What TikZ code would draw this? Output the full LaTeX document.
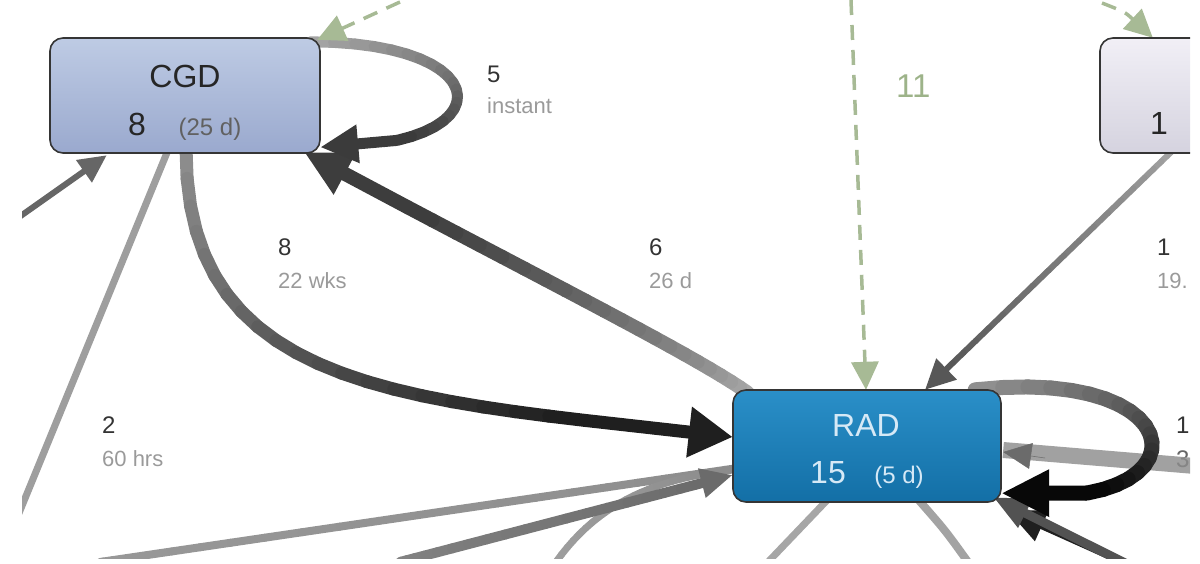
\documentclass[tikz,border=0pt]{standalone}
\usepackage{fontspec}
\setmainfont{Liberation Sans}
\usetikzlibrary{arrows.meta,calc}

\definecolor{boxline}{HTML}{353535}
\definecolor{cgdtop}{HTML}{BECBE4}
\definecolor{cgdbot}{HTML}{9AA9CE}
\definecolor{radtop}{HTML}{2A8FC8}
\definecolor{radbot}{HTML}{136FA6}
\definecolor{pale}{HTML}{F1EFF6}
\definecolor{palebot}{HTML}{D5D3DF}
\definecolor{sage}{HTML}{A7BA95}
\definecolor{sagetext}{HTML}{9DB389}
\definecolor{radtext}{HTML}{D6E9F6}
\definecolor{countc}{HTML}{333333}
\definecolor{timec}{HTML}{9A9A9A}

% cubic Bezier sampled into points fp0..fp24
\newcommand\flowpoints[4]{%
  \coordinate (fa) at #1; \coordinate (fb) at #2;
  \coordinate (fc) at #3; \coordinate (fd) at #4;
  \foreach \k in {0,...,24}{%
    \pgfmathsetmacro\ft{\k/24}%
    \coordinate (fab) at ($(fa)!\ft!(fb)$);
    \coordinate (fbc) at ($(fb)!\ft!(fc)$);
    \coordinate (fcd) at ($(fc)!\ft!(fd)$);
    \coordinate (fabc) at ($(fab)!\ft!(fbc)$);
    \coordinate (fbcd) at ($(fbc)!\ft!(fcd)$);
    \coordinate (fp\k) at ($(fabc)!\ft!(fbcd)$);
  }}
% shaded flow with an arrow tip: width, start colour, end colour, 4 points, tip length, tip width
\newcommand\flowedge[9]{%
  \colorlet{flowstart}{#2}\colorlet{flowend}{#3}%
  \flowpoints{#4}{#5}{#6}{#7}%
  \foreach \k [evaluate=\k as \n using int(\k+1), evaluate=\k as \m using int(100-100*\k/19)] in {0,...,19}{%
    \draw[line width=#1, line cap=round, color=flowstart!\m!flowend] (fp\k) -- (fp\n);}
  \draw[line width=#1, color=flowend, -{Triangle[length=#8, width=#9]}] (fp20) -- (fp24);}
% shaded flow without a tip
\newcommand\flowline[7]{%
  \colorlet{flowstart}{#2}\colorlet{flowend}{#3}%
  \flowpoints{#4}{#5}{#6}{#7}%
  \foreach \k [evaluate=\k as \n using int(\k+1), evaluate=\k as \m using int(100-100*\k/23)] in {0,...,23}{%
    \draw[line width=#1, line cap=round, color=flowstart!\m!flowend] (fp\k) -- (fp\n);}}

\tikzset{
  actbox/.style={draw=boxline, line width=1.6pt, rounded corners=13pt, inner sep=0pt},
  bigtext/.style={anchor=base, inner sep=0pt, font=\fontsize{32}{32}\selectfont},
  smalltext/.style={anchor=base, inner sep=0pt, font=\fontsize{24}{24}\selectfont},
  countlbl/.style={anchor=base west, inner sep=0pt, text=countc, font=\fontsize{24}{24}\selectfont},
  timelbl/.style={anchor=base west, inner sep=0pt, text=timec, font=\fontsize{22}{22}\selectfont},
  sageflow/.style={draw=sage, line width=3.5pt, dash pattern=on 15pt off 10pt,
    -{Triangle[length=28pt, width=27pt, fill=sage]}},
}

\begin{document}
\begin{tikzpicture}[x=1pt, y=-1pt]
\useasboundingbox (0,0) rectangle (1200,563);
\begin{scope}
\clip (22,0) rectangle (1190,558);

% activity boxes (positions only, drawn later on top)
\path (185,95.5) node[minimum width=270pt, minimum height=115pt, inner sep=0pt] (cgd) {};
\path (867,446) node[minimum width=268pt, minimum height=112pt, inner sep=0pt] (rad) {};
\path (1170,95.5) node[minimum width=140pt, minimum height=115pt, inner sep=0pt] (pend) {};

% labels lying under flows
\node[countlbl] (l1a) at (1176,433) {1};
\node[countlbl, text=countc!75] (l1b) at (1176,467) {3};

% free ends of the flows leaving the visible area
\coordinate (inL) at (5,227);
\coordinate (outL) at (10,535);
\coordinate (inA) at (100,562);
\coordinate (inB) at (400,562);
\coordinate (inC) at (556,562);
\coordinate (inR) at (1195,466);
\coordinate (inRtip) at (1045,458);
\coordinate (inBR) at (1125,563);
\coordinate (outB1) at (768,562);
\coordinate (outB2) at (968,562);
\coordinate (topA) at (400,2);
\coordinate (topB) at (851,0);
\coordinate (topC) at (1102,3);

% flows leaving the visible area
\draw[line width=7pt, color=black!38] ($(cgd.south)+(-17,-3)$) -- (outL);
\draw[line width=7pt, color=black!35] ($(rad.south)+(-38,-4)$) -- (outB1);
\draw[line width=8pt, color=black!36] ($(rad.south)+(50,-4)$) .. controls (945,530) .. (outB2);

% flows entering from outside
\draw[line width=6pt, color=black!60, -{Triangle[length=28pt, width=26pt]}] (inL) -- ($(cgd.south west)+(57,2)$);
\flowline{8pt}{black!40}{black!45}{(inA)}{(inA)}{($(rad.west)+(5,22)$)}{($(rad.west)+(5,22)$)}
\flowline{7pt}{black!38}{black!45}{(inC)}{(600,500)}{(660,478)}{($(rad.west)+(0,24)$)}
\flowedge{10pt}{black!48}{black!58}{(inB)}{(inB)}{($(rad.west)+(0,29)$)}{($(rad.west)+(0,29)$)}{32pt}{28pt}
\draw[line width=16pt, color=black!45, draw opacity=0.82] (inR) -- ($(rad.east)+(2,4)$);
\draw[line width=0.5pt, color=black!58, -{Triangle[length=28pt, width=26pt]}] (inRtip) -- ($(rad.east)+(2,6)$);
\draw[line width=7pt, color=black!88, -{Triangle[length=38pt, width=32pt]}] (inBR) -- ($(rad.south east)+(6,8)$);
\draw[line width=9pt, color=black!68, -{Triangle[length=36pt, width=30pt]}] (inBR) -- ($(rad.south east)+(-8,-5)$);

% flows between the activities
\flowedge{6pt}{black!33}{black!66}{($(pend.south)+(2,-2)$)}{($(pend.south)+(2,-2)$)}{($(rad.north)+(58,0)$)}{($(rad.north)+(58,0)$)}{30pt}{28pt}
\flowedge{13pt}{black!45}{black!88}{($(cgd.south)+(1,-5)$)}{(185,400)}{(420,400)}{($(rad.west)+(0,-9)$)}{44pt}{48pt}
\flowedge{14pt}{black!34}{black!76}{($(rad.north west)+(15,3)$)}{(690,352)}{(520,268)}{($(cgd.south east)+(-16,-1)$)}{46pt}{44pt}
\flowedge{11pt}{black!36}{black!77}{($(cgd.north east)+(-10,4)$)}{(505,42)}{(505,150)}{($(cgd.south east)+(0,-6)$)}{38pt}{36pt}
\flowedge{15pt}{black!44}{black!97}{($(rad.north east)+(-26,0)$)}{(1205,364)}{(1208,520)}{($(rad.south east)+(0,-9)$)}{48pt}{44pt}

% dashed start/end flows
\draw[sageflow] (topA) -- ($(cgd.north east)+(-3,2)$);
\draw[sageflow] (topB) -- ($(rad.north)+(-1,0)$);
\draw[sageflow] (topC) .. controls (1125,12) .. ($(pend.north west)+(53,0)$);

% activity boxes
\node[actbox, top color=cgdtop, bottom color=cgdbot, minimum width=270pt, minimum height=115pt] (cgdbox) at (cgd) {};
\node[actbox, top color=radtop, bottom color=radbot, minimum width=268pt, minimum height=112pt] (radbox) at (rad) {};
\node[actbox, top color=pale, bottom color=palebot, minimum width=140pt, minimum height=115pt] (pendbox) at (pend) {};

% box texts
\node[bigtext, text=black!85] (cgdname) at (185,87) {CGD};
\node[bigtext, text=black!85] (cgdn) at (137,135) {8};
\node[smalltext, text=black!62] (cgdt) at (210,135) {(25 d)};
\node[bigtext, text=radtext] (radname) at (866,436) {RAD};
\node[bigtext, text=radtext] (radn) at (828,483) {15};
\node[smalltext, text=radtext] (radt) at (899,483) {(5 d)};
\node[bigtext, text=black!85] (pendn) at (1159,134) {1};

% flow labels
\node[countlbl] (l5a) at (487,82) {5};
\node[timelbl] (l5b) at (487,113) {instant};
\node[countlbl] (l8a) at (278,255) {8};
\node[timelbl] (l8b) at (278,288) {22 wks};
\node[countlbl] (l6a) at (649,255) {6};
\node[timelbl] (l6b) at (649,288) {26 d};
\node[countlbl] (l2a) at (102,433) {2};
\node[timelbl] (l2b) at (102,466) {60 hrs};
\node[countlbl] (l1c) at (1157,255) {1};
\node[timelbl] (l1d) at (1157,288) {19.};
\node[anchor=base west, inner sep=0pt, text=sagetext, font=\fontsize{33}{33}\selectfont] (l11) at (896,97) {11};
\end{scope}
\end{tikzpicture}
\end{document}
